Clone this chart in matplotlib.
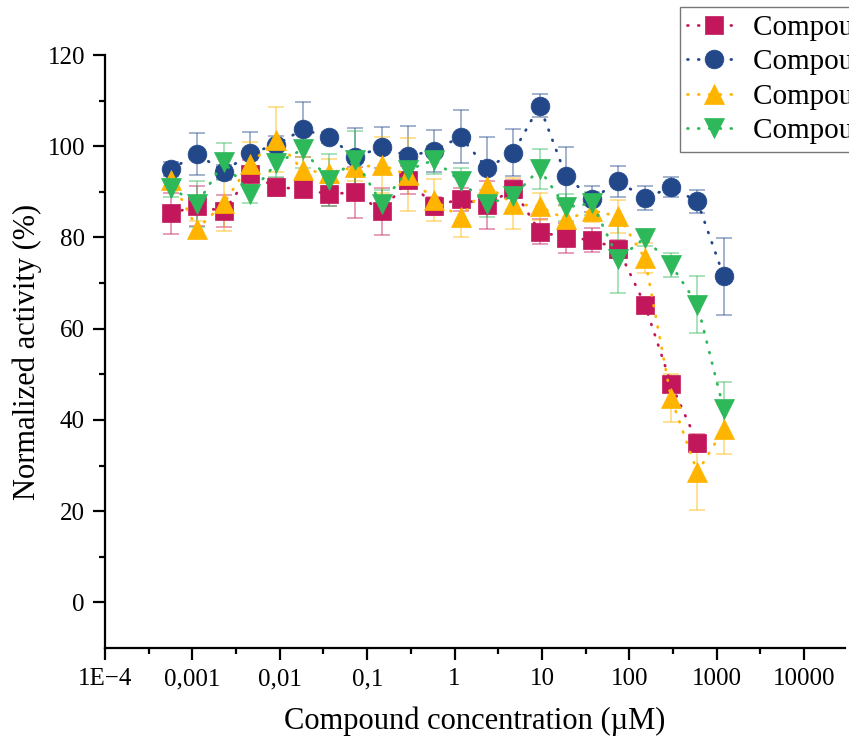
import numpy as np
import matplotlib
matplotlib.use("Agg")
import matplotlib.pyplot as plt
from matplotlib.ticker import FixedLocator, NullFormatter

plt.rcParams['font.family'] = ['Liberation Serif', 'DejaVu Serif']

# concentrations (uM), 2-fold dilution series
conc = [0.000572, 0.00114, 0.00229, 0.00458, 0.00916, 0.0183, 0.0366, 0.0732,
        0.146, 0.293, 0.586, 1.17, 2.34, 4.69, 9.375, 18.75, 37.5, 75, 150, 300,
        600, 1200]

# compound 1 (red) has no point at the top concentration
red_y = [85.3, 86.9, 85.7, 93.9, 91.0, 90.6, 89.5, 89.9, 85.7, 92.6, 86.9, 88.4,
         87.1, 90.6, 81.3, 79.9, 79.5, 77.4, 65.3, 47.9, 35.0]
red_err = [4.5, 4.3, 3.5, 3.0, 2.0, 1.5, 2.5, 5.6, 5.2, 3.0, 2.0, 2.5, 5.3, 2.0,
           2.7, 3.2, 2.6, 2.0, 1.5, 1.5, 2.0]

blue_y = [95.0, 98.3, 94.4, 98.5, 100.3, 103.7, 102.0, 97.6, 99.8, 97.9, 99.0,
          102.1, 95.2, 98.6, 108.9, 93.5, 88.4, 92.3, 88.6, 91.0, 87.9, 71.5]
blue_err = [1.6, 4.6, 1.5, 4.7, 2.0, 6.1, 1.2, 6.5, 4.5, 6.6, 4.6, 5.8, 6.9, 5.1,
            2.6, 6.4, 2.9, 3.4, 2.6, 2.2, 2.5, 8.4]

yellow_y = [92.6, 81.9, 87.5, 96.2, 101.4, 94.7, 94.2, 95.4, 95.9, 93.7, 88.2,
            84.4, 91.3, 87.4, 86.8, 84.0, 85.9, 84.6, 75.5, 44.8, 28.5, 38.0]
yellow_err = [2.0, 1.7, 6.0, 4.8, 7.1, 3.0, 3.0, 3.0, 6.2, 8.0, 4.6, 4.2, 3.0,
              5.6, 3.0, 3.0, 2.5, 3.6, 3.2, 5.3, 8.3, 5.4]

green_y = [90.8, 87.4, 96.6, 89.6, 96.3, 99.3, 92.6, 97.0, 87.4, 94.8, 97.0,
           92.3, 87.4, 89.0, 95.0, 86.6, 87.5, 75.3, 79.9, 74.0, 65.3, 42.3]
green_err = [2.0, 5.0, 4.0, 2.0, 3.0, 4.0, 5.7, 6.4, 3.0, 3.0, 3.0, 3.0, 3.0,
             3.0, 4.4, 3.0, 2.5, 7.5, 1.8, 2.6, 6.3, 6.0]

labels = ["Compound 1", "Compound 2", "Compound 3", "Compound 4"]
colors = ["#C2185B", "#22488A", "#FFB400", "#2DB85A"]
markers = ["s", "o", "^", "v"]
sizes = [13, 13.5, 15, 15]

series = [(conc[:len(red_y)], red_y, red_err),
          (conc, blue_y, blue_err),
          (conc, yellow_y, yellow_err),
          (conc, green_y, green_err)]

fig = plt.figure(figsize=(8.49, 7.49), dpi=100)
ax = fig.add_axes([105/849, 1 - 648/749, 740/849, 593/749])

handles = []
for (x, y, e), lab, c, m, ms in zip(series, labels, colors, markers, sizes):
    ax.errorbar(x, y, yerr=e, fmt='none', ecolor=c, alpha=0.45,
                elinewidth=1.3, capsize=5.5, capthick=1.3, zorder=2)
    h, = ax.plot(x, y, linestyle=(0, (0.3, 3.6)), linewidth=2.0, color=c,
                 dash_capstyle='round', marker=m, markersize=ms,
                 markeredgecolor=c, markeredgewidth=0.5, label=lab, zorder=3)
    handles.append(h)

ax.set_xscale('log')
ax.set_xlim(1e-4, 10**4.467)
ax.set_ylim(-10, 120)

ax.xaxis.set_major_locator(FixedLocator([10.0**k for k in range(-4, 5)]))
ax.set_xticklabels(["1E\u22124", "0,001", "0,01", "0,1", "1", "10", "100",
                    "1000", "10000"])
ax.xaxis.set_minor_locator(FixedLocator([10.0**(k + 0.5) for k in range(-4, 5)]))
ax.xaxis.set_minor_formatter(NullFormatter())
ax.set_yticks(range(0, 121, 20))
ax.yaxis.set_minor_locator(FixedLocator(range(10, 120, 20)))

ax.spines['top'].set_visible(False)
ax.spines['right'].set_visible(False)
for s in ['left', 'bottom']:
    ax.spines[s].set_linewidth(1.6)
ax.tick_params(which='major', direction='out', length=8.5, width=1.6,
               labelsize=18, pad=6)
ax.tick_params(which='minor', direction='out', length=4.5, width=1.6)

ax.set_xlabel("Compound concentration (\u00b5M)", fontsize=22, labelpad=12)
ax.set_ylabel("Normalized activity (%)", fontsize=22, labelpad=4)

leg = fig.legend(handles=handles, loc='upper left',
                 bbox_to_anchor=(680/849, 1 - 7/749), borderaxespad=0,
                 fontsize=21, frameon=True, fancybox=False,
                 edgecolor='#555555', handlelength=1.8, handletextpad=0.45,
                 labelspacing=0.28, borderpad=0.25)
leg.get_frame().set_linewidth(1.0)

fig.savefig("out.png", dpi=100)
